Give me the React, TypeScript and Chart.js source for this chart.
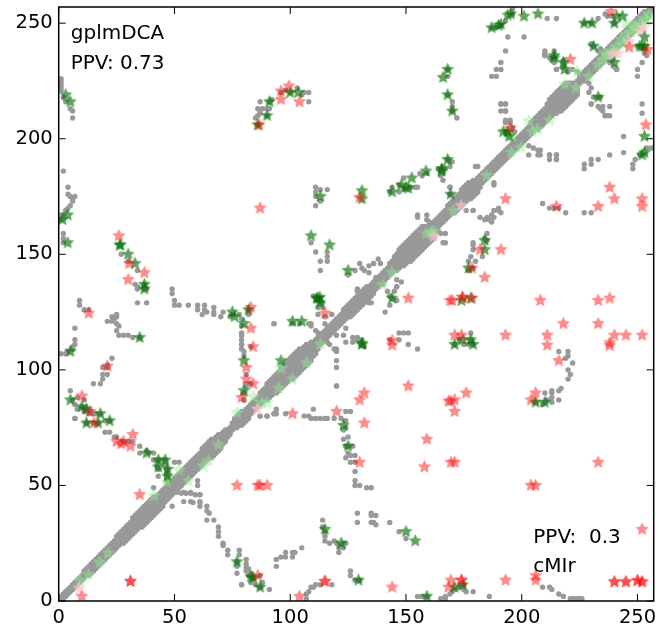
import { useEffect, useRef } from "react";
import { Chart, registerables } from "chart.js";
Chart.register(...registerables);

const tickValues = [0, 50, 100, 150, 200, 250];
const axisMax = 257;

// half width of the native-contact band along the diagonal, residue by residue
const diagonalBand = [
  1,1,1,1,1,1,1,1,1,1, 1,2,2,2,2,2,2,2,2,2, 2,2,2,2,2,3,3,3,3,3, 3,3,4,4,4,4,4,4,4,4,
  4,4,3,3,3,3,3,3,3,3, 3,3,3,3,3,3,3,3,3,3, 3,3,4,4,4,4,4,3,3,3, 2,2,2,1,1,2,3,3,3,3,
  2,2,2,2,2,2,2,3,3,3, 4,4,4,4,4,4,5,5,5,5, 5,5,5,5,5,4,4,4,3,3, 2,2,2,2,2,2,2,2,2,2,
  2,2,2,3,3,3,3,3,3,3, 3,3,3,3,2,2,2,2,2,2, 2,2,2,3,3,4,4,5,5,5, 5,5,5,5,5,5,5,5,4,3,
  2,2,2,2,2,2,2,2,3,3, 3,3,3,3,4,4,4,4,3,3, 2,2,2,2,2,2,2,2,2,2, 2,2,2,2,2,2,2,2,2,2,
  2,2,2,2,3,3,3,3,3,3, 3,4,5,5,5,5,5,5,5,5, 4,3,2,1,1,2,2,2,2,2, 2,2,2,2,2,2,2,2,2,2,
  2,2,2,2,2,2,2,2,2,2, 2,2,2,2,1,1,0,
];

// native contacts off the diagonal (each one is shown on both sides of it)
const contactsEdge = [[1,226],[1,225],[1,224],[1,223],[1,222],[1,221],[2,218],[3,216],[5,213],[6,212],[6,209],[2,186],[4,179],[4,176],[5,175],[7,175],[6,174],[6,173],[5,171],[4,170],[3,169],[2,167],[1,167],[1,166],[1,165],[2,159],[2,157],[2,155]];
const contactsArcLeft = [[27,150],[30,147],[34,143],[33,137],[34,136],[34,135],[37,137],[37,135],[38,135],[34,129],[38,129],[9,130],[9,128],[11,126],[13,126],[25,124],[23,123],[25,123],[24,122],[21,121],[23,121],[25,120],[26,119],[25,117],[26,115],[28,115],[30,115],[32,114],[35,114]];
const contactsLow = [[7,118],[7,113],[7,111],[6,110],[6,109],[4,108],[3,107],[1,107],[23,105],[21,102],[19,101],[21,101],[21,98],[19,98],[19,96],[18,94],[15,94],[5,91],[7,85],[8,83],[7,79],[10,84],[12,83],[14,82],[15,77],[17,77],[12,77],[50,60],[52,60],[41,49]];
const contactsCurve = [[51,47],[53,46.6],[55,46.6],[57,46.6],[59,46],[61,46],[54,43],[57,43],[58,42.6],[61,42.6],[61,41],[64,41],[64,39],[65,38],[64,35],[67,35],[69,32],[69,30],[69,28],[71,25],[71,24],[73,22],[73,20],[78,22],[78,20],[81,18],[81,16],[81,14.5],[81,13],[82,11],[79,7],[87,11],[88,8],[87,6],[84,10],[46,61],[43,61],[47,57],[47,54]];
const contactsBranch = [[49,135],[49,133],[50,130],[50,128],[52,128],[56,128],[60,128],[60,126],[63,128],[63,126],[64,125],[67,127],[67,125],[71,125],[75,124],[78,124],[62,124],[67,124],[70,123],[74,123],[79,122],[79,116],[79,113],[79,111],[79,109],[80,106],[81,98],[81,93],[80,90],[80,87],[83,94],[93,120],[110,83],[87,80],[90,80],[93,81],[94,81],[108,80],[111,79],[115,79],[119,79],[82,124],[82,126]];
const contactsCross = [[108,120],[109,119],[111,117],[112,116],[114,115],[119,118],[120,109],[120,104],[120,101],[120,93],[127,114],[129,114],[124,112],[123,115],[120,115],[124,118],[136,146],[138,148],[134,145],[137,140],[130,146],[128,143],[125,141],[129,134],[130,131],[132,130],[135,129],[146,139],[146,136],[142,134],[143,132],[131,144]];
const contactsUpper = [[111,179],[111,177],[113,178],[116,178],[111,175],[111,171],[109,155],[111,151],[113,147],[113,143],[116,151],[116,149],[116,147],[113,173],[111,131],[113,131],[113,129],[112,127],[110,132],[87,216],[86,213],[88,213],[90,213],[91,213],[91,216],[92,217],[85,209],[86,210],[87,211],[90,210],[86,206],[103,222],[98,221],[96,220],[106,220],[108,220],[108,216],[105,219],[100,220]];
const contactsMiddle = [[168,227],[170,216],[170,214],[172,209],[168,230],[168,219],[170,212],[149,183],[156,185],[154,179],[169,179],[169,190],[166,188],[180,188],[188,181],[155,167],[159,167],[159,165],[160,164],[166,155],[176,169],[179,169],[182,166],[184,165],[185,166],[187,167],[188,169],[190,170],[187,164],[186,165],[191,168],[185,159],[184,157],[179,155],[179,152],[178,149],[180,147],[177,147],[179,144],[177,143]];
const contactsTop = [[194,244],[201,244],[193,238],[191,233],[189,230],[191,230],[187,227],[189,227],[211,252],[215,252],[210,237],[210,236],[212,235],[213,234],[215,230],[218,234],[220,229],[233,252],[236,254],[237,253],[239,253],[240,250],[234,239],[233,238],[235,237],[241,230],[240,231],[230,241],[191,215],[193,215],[191,212],[193,212],[193,208],[195,208],[230,215],[231,218],[233,218],[233,214],[235,214],[238,214],[236,210],[238,210],[230,222],[229,224],[215,193],[215,191],[212,193],[207,195],[207,193],[203,197],[203,193],[205,196],[248,187],[248,189],[249,191],[251,193],[254,196],[256,196],[230,250],[227,250]];

const redStars = [[26,158],[30.4,146],[37,142],[30,139],[86.6,206],[96,220.6],[96,217],[99.5,222.8],[104,216],[87,170],[83,127],[13,124.5],[115,124.5],
  [83,118],[84,110],[81,101],[81,96],[84,94],[79,88],[21,101.6],[10,88.7],[13.5,82],[15.3,77],[25,69],[27,68],[28,69],[32,72],[31,67],[35,46],[10,2],[31,8.5],[31,8.5],[77,50],[86,50],[87,50],[90,50],[86,11],[101,81],[104,2],[115,8.5],[115,8.5],
  [130,174.6],[195,204.5],[182,152],[191,152],[178.5,144],[184,140],[193,174],[151,131],[169,130],[170,130],[174.4,131.4],[174.4,131.4],[178.5,131],[208,130],[233,130],[238,131],[215,170.7],[233,170.7],[238,179],[240,174],[252,174],[252,170.7],[221,234.3],[253.6,206],[238.5,255],[254.3,238.6],[246.4,239.6],
  [218,120],[233,120],[193,115],[211,115],[211,110.7],[171,115],[174,115],[144,112.7],[144,110.7],[238,111.7],[238,110.5],[240,115],[245,115],[252,115],[216,104],[151,93],[132,90],[130,87],[176,90],[168.4,86.5],[169.4,86.5],[171,87],[171,82],[120,82],[132,77],[159,70],[158,58],[169.4,60],[171,60],[233,60],[130,60],[204,50],[206,50],[252,31],[206,11],[206,9],[193,9],[169.4,9],[174,9],[174,9],[168.4,6],[240,8.3],[240,8.3],[245,8.3],[245,8.3],[250,8.8],[250,8.8],[252,8.3],[252,8.3],[144,6],[206,90],[204,87]];
const greenStars = [[3,219],[5,216],[1.6,165],[3.9,167],[3.9,155],[26.5,154],[26.5,154],[30,150],[33,146],[37,137],[37,135],[86,206],[90,210],[91,216],[100,220],[103.5,220],[113,175],[109,158],[117,154],[111.4,131],[112.8,131.4],[112.8,129],[112,131],[75,125],[82,126],
  [35,114],[5,108],[5,87],[10,84],[12,83],[18,81],[12,77],[17,77],[22,78],[38,64],[43,61],[46,61],[43,58],[47,57],[47,54],[77,17],[83,10.5],[84,10],[87,6],[115,31],[101,121],[105,121],[76,123],[80,120],[80,104],[80,91],[96,104],
  [131,111.5],[131,111],[171,111],[174.5,113],[178,113],[179,111],[123,76],[125,67],[122,25],[129.5,9],[150,30],[154,26],[159,2],[171,6],[174.5,7],[206,86],[210,86],
  [168,230],[166,226.5],[168,219],[170,212],[131,177.5],[131,174],[144,177],[148,180],[151,178.6],[150,179],[152.5,183],[158.6,186],[165.4,186],[165.4,187],[168,191],[169.3,176],[184,156],[184,152],[177,144],[125,143],[144,131],[174,130],[178,131],[187,248],[190,249],[191,249.5],[194,253.5],[195.3,254],[201,253],[207,254],[227,250],[230.4,250],[240,250],[243.5,253],[241,253],[231,240],[214,235],[214,236],[218,233],[218.5,230],[233,218],[251,240],[252,240],[253,240],[253,244],[253,201],[252,193],[253,194],[192,203],[194.6,201],[194,203],[240,233]];
const paleGreenStars = [[46.6,51.5],[41.2,45.5],[56,52],[52,56.7],[62.5,58.4],[64.6,60.6],[69,67.5],[21.4,20.6],[17.8,16.7],[12.8,11.4],[9.2,8.8],[77,81.5],[84,88.4],[87.7,85.8],[90,85.8],[96,100.6],[101,96],[95,92],[107,103],[113,111],[144,142],[140,136.7],[170.4,168.8],[160.8,159.5],[158.7,158.8],[162,160],[184.8,184],[195.6,194],[199.7,196.2],[195.7,201],[203,207.7],[204.7,203],[206.8,204],[212,208],[218.6,223.5],[223.4,222],[224,229],[229,227],[233,232],[235,234.3],[236,237],[237,236],[239,238],[240,237],[241,240],[243,243],[244,241],[245,245],[247,246],[248,249],[249,248],[250,247],[251,250],[252,249],[253,252],[254,251],[255,254],[245,250]];
const pinkStars = [[8.8,5.5],[85.8,83],[162,157.7],[173.8,171],[239,236.5],[241.4,237],[246.4,242],[251.4,246.5],[252.5,248]];

const annotations = [
  { text: "gplmDCA", x: 5.2, y: 243 },
  { text: "PPV: 0.73", x: 5.2, y: 230 },
  { text: "PPV:  0.3", x: 205, y: 25.3 },
  { text: "cMIr", x: 205, y: 12.4 },
];

const FONT = '"DejaVu Sans"';

function starImage(fill: string, edge: string) {
  const c = document.createElement("canvas");
  c.width = 17;
  c.height = 17;
  const g = c.getContext("2d")!;
  g.beginPath();
  for (let i = 0; i < 10; i++) {
    const r = i % 2 === 0 ? 6.4 : 3.1;
    const a = -Math.PI / 2 + (i * Math.PI) / 5;
    const px = 8.5 + r * Math.cos(a);
    const py = 8.5 + r * Math.sin(a);
    if (i === 0) g.moveTo(px, py);
    else g.lineTo(px, py);
  }
  g.closePath();
  g.fillStyle = fill;
  g.fill();
  g.strokeStyle = edge;
  g.lineWidth = 1;
  g.stroke();
  return c;
}

const toPoints = (list: number[][]) => list.map(([x, y]) => ({ x, y }));

function grayPoints() {
  const out: { x: number; y: number }[] = [];
  diagonalBand.forEach((w, i) => {
    for (let k = 0; k <= w; k++) {
      out.push({ x: i + k, y: i });
      out.push({ x: i, y: i + k });
    }
  });
  [contactsEdge, contactsArcLeft, contactsLow, contactsCurve, contactsBranch, contactsCross, contactsUpper, contactsMiddle, contactsTop].forEach((list) =>
    list.forEach(([x, y]) => {
      out.push({ x, y });
      out.push({ x: y, y: x });
    })
  );
  return out;
}

const framePlugin = {
  id: "frame",
  afterDatasetsDraw(chart: any) {
    const { ctx, chartArea: a, scales } = chart;
    ctx.save();
    ctx.strokeStyle = "#000";
    ctx.lineWidth = 1;
    ctx.beginPath();
    tickValues.forEach((v) => {
      const px = scales.x.getPixelForValue(v);
      const py = scales.y.getPixelForValue(v);
      ctx.moveTo(px, a.bottom);
      ctx.lineTo(px, a.bottom - 7);
      ctx.moveTo(px, a.top);
      ctx.lineTo(px, a.top + 7);
      ctx.moveTo(a.left, py);
      ctx.lineTo(a.left + 7, py);
      ctx.moveTo(a.right, py);
      ctx.lineTo(a.right - 7, py);
    });
    ctx.stroke();
    ctx.lineWidth = 1.5;
    ctx.strokeRect(a.left, a.top, a.right - a.left, a.bottom - a.top);
    ctx.fillStyle = "#000";
    ctx.font = `20px ${FONT}`;
    ctx.textAlign = "left";
    ctx.textBaseline = "alphabetic";
    annotations.forEach((t) => {
      ctx.fillText(t.text, scales.x.getPixelForValue(t.x), scales.y.getPixelForValue(t.y));
    });
    ctx.restore();
  },
};

export default function App() {
  const ref = useRef<HTMLCanvasElement>(null);
  useEffect(() => {
    const star = (data: number[][], img: HTMLCanvasElement) => ({
      data: toPoints(data),
      pointStyle: img,
      pointRadius: 6,
      showLine: false,
    });
    const zeroPad = (s: any) => {
      s.paddingLeft = 0;
      s.paddingRight = 0;
      s.paddingTop = 0;
      s.paddingBottom = 0;
    };
    const axis = (fit: (s: any) => void, padding: number) => ({
      type: "linear" as const,
      min: 0,
      max: axisMax,
      afterFit: (s: any) => {
        zeroPad(s);
        fit(s);
      },
      grid: { display: false, drawTicks: false },
      border: { display: false },
      ticks: {
        stepSize: 50,
        includeBounds: false,
        autoSkip: false,
        maxRotation: 0,
        padding,
        color: "#000",
        font: { family: FONT, size: 19.5 },
      },
    });
    const chart = new Chart(ref.current!, {
      type: "scatter",
      data: {
        datasets: [
          star(redStars, starImage("rgba(255,0,0,0.45)", "rgba(255,0,0,0.2)")),
          star(greenStars, starImage("rgba(0,105,0,0.62)", "rgba(0,160,0,0.25)")),
          star(pinkStars, starImage("rgba(255,192,203,0.7)", "rgba(255,192,203,0.35)")),
          star(paleGreenStars, starImage("rgba(144,238,144,0.45)", "rgba(144,238,144,0.25)")),
          { data: grayPoints(), pointRadius: 2.7, pointBackgroundColor: "#999999", pointBorderWidth: 0, showLine: false },
        ],
      },
      options: {
        animation: false,
        responsive: false,
        events: [],
        layout: { padding: { left: 0, top: 6, right: 18.3, bottom: 0 } },
        plugins: { legend: { display: false }, tooltip: { enabled: false } },
        scales: {
          x: axis((s) => { s.height = 27; }, 5),
          y: axis((s) => { s.width = 58.7; }, 6),
        },
      },
      plugins: [framePlugin],
    } as any);
    return () => chart.destroy();
  }, []);
  return (
    <div style={{ position: "absolute", left: 0, top: 0, width: 672, height: 628, background: "#fff" }}>
      <canvas ref={ref} width={672} height={628} style={{ display: "block", filter: "blur(0.4px)" }} />
    </div>
  );
}
